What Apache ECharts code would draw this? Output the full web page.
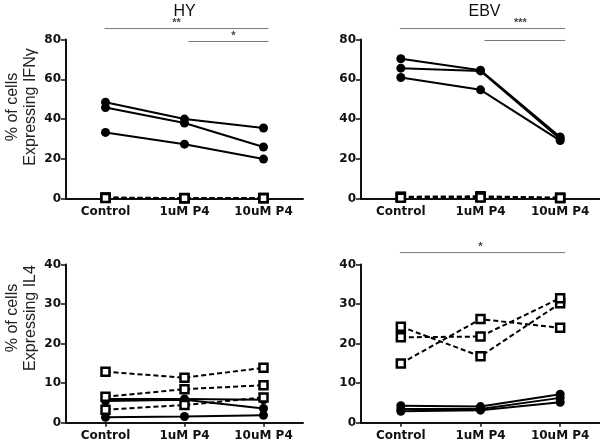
<!DOCTYPE html>
<html><head><meta charset="utf-8">
<script src="https://cdn.jsdelivr.net/npm/echarts@6/dist/echarts.min.js"></script>
<style>html,body{margin:0;padding:0;background:#fff}#c{width:600px;height:443px}</style>
</head><body><div id="c"></div>
<script>
const categories = ['Control', '1uM P4', '10uM P4'];
const ifnTicks = [0, 20, 40, 60, 80];
const il4Ticks = [0, 10, 20, 30, 40];

const hyIfnCircles = [[48.5, 40.0, 35.5], [45.8, 38.0, 26.0], [33.3, 27.4, 19.9]];
const hyIfnSquares = [[0.6, 0.3, 0.3], [0.5, 0.2, 0.4], [0.3, 0.2, 0.2]];
const ebvIfnCircles = [[70.3, 64.6, 31.0], [65.6, 64.2, 30.0], [60.9, 54.7, 29.2]];
const ebvIfnSquares = [[1.0, 1.2, 0.5], [0.8, 0.9, 0.4], [0.5, 0.6, 0.3]];
const hyIl4Squares = [[12.9, 11.4, 13.9], [6.6, 8.5, 9.5], [3.3, 4.5, 6.4]];
const hyIl4Circles = [[6.0, 6.0, 5.8], [5.5, 5.8, 3.6], [1.4, 1.6, 1.9]];
const ebvIl4Squares = [[24.3, 16.8, 30.2], [21.6, 21.8, 31.5], [15.0, 26.2, 24.0]];
const ebvIl4Circles = [[4.3, 4.1, 7.2], [3.5, 3.5, 6.3], [2.9, 3.2, 5.2]];

// significance bars: panel, from category, to category, level (value)
const sigBars = [
  {panel: 0, from: 0, to: 2, level: 85.5},
  {panel: 0, from: 1, to: 2, level: 79},
  {panel: 1, from: 0, to: 2, level: 85.5},
  {panel: 1, from: 1, to: 2, level: 79.5},
  {panel: 3, from: 0, to: 2, level: 43}
];
// significance labels: panel, position along categories, level (value), text
const sigLabels = [
  {panel: 0, at: 0.9, level: 88.5, label: '**'},
  {panel: 0, at: 1.62, level: 82, label: '*'},
  {panel: 1, at: 1.5, level: 88.5, label: '***'},
  {panel: 3, at: 1.0, level: 44.5, label: '*'}
];

const axisColor = '#111';
const tickFont = {fontFamily: 'DejaVu Sans', fontWeight: 'bold', fontSize: 12, color: '#111'};

const grids = [
  {left: 66, top: 39.5, width: 237, height: 159.2},
  {left: 361, top: 39.5, width: 239, height: 159.2},
  {left: 66, top: 264.5, width: 237, height: 158.3},
  {left: 361, top: 264.5, width: 239, height: 158.3}
];

const xAxes = grids.map((g, i) => ({
  type: 'category', gridIndex: i, data: categories, boundaryGap: true,
  axisLine: {lineStyle: {color: axisColor, width: 2}},
  axisTick: {show: true, alignWithLabel: true, length: 4, lineStyle: {color: axisColor, width: 1.5}},
  axisLabel: Object.assign({margin: 7}, tickFont),
  splitLine: {show: false}
}));
const yAxes = grids.map((g, i) => {
  const ticks = i < 2 ? ifnTicks : il4Ticks;
  return {
    type: 'value', gridIndex: i, min: ticks[0], max: ticks[ticks.length - 1],
    interval: ticks[1] - ticks[0],
    axisLine: {show: true, lineStyle: {color: axisColor, width: 2}},
    axisTick: {show: true, length: 5, lineStyle: {color: axisColor, width: 1.5}},
    axisLabel: Object.assign({margin: 5}, tickFont),
    splitLine: {show: false}
  };
});

function circleSeries(arr, gi) {
  return arr.map(d => ({
    type: 'line', xAxisIndex: gi, yAxisIndex: gi, data: d, symbol: 'circle', symbolSize: 9,
    lineStyle: {color: '#000', width: 2}, itemStyle: {color: '#000'}, z: 3, animation: false
  }));
}
function squareSeries(arr, gi) {
  return arr.map(d => ({
    type: 'line', xAxisIndex: gi, yAxisIndex: gi, data: d, symbol: 'rect', symbolSize: 8,
    lineStyle: {color: '#000', width: 2, type: [5, 3]},
    itemStyle: {color: '#fff', borderColor: '#000', borderWidth: 2.5, opacity: 1}, z: 4, animation: false
  }));
}

const series = [].concat(
  squareSeries(hyIfnSquares, 0), circleSeries(hyIfnCircles, 0),
  squareSeries(ebvIfnSquares, 1), circleSeries(ebvIfnCircles, 1),
  squareSeries(hyIl4Squares, 2), circleSeries(hyIl4Circles, 2),
  squareSeries(ebvIl4Squares, 3), circleSeries(ebvIl4Circles, 3)
);

const chart = echarts.init(document.getElementById('c'), null, {renderer: 'canvas'});
chart.setOption({
  animation: false,
  backgroundColor: '#fff',
  grid: grids,
  xAxis: xAxes,
  yAxis: yAxes,
  series: series
});

const titleFont = {fontFamily: 'Liberation Sans', fontSize: 16, fill: '#111'};
const yTitleFont = {fontFamily: 'Liberation Sans', fontSize: 16, fill: '#222'};
const graphics = [];
function px(panel, cat, val) {
  const i0 = Math.floor(cat), i1 = Math.min(i0 + 1, categories.length - 1);
  const a = chart.convertToPixel({gridIndex: panel}, [i0, val]);
  const b = chart.convertToPixel({gridIndex: panel}, [i1, val]);
  const f = cat - i0;
  return [a[0] + (b[0] - a[0]) * f, a[1]];
}
// panel titles
const hyC = px(0, 1, 80), ebvC = px(1, 1, 80);
graphics.push({type: 'text', x: hyC[0], y: 12, style: Object.assign({text: 'HY', align: 'center', verticalAlign: 'middle'}, titleFont)});
graphics.push({type: 'text', x: ebvC[0] + 4, y: 12, style: Object.assign({text: 'EBV', align: 'center', verticalAlign: 'middle'}, titleFont)});
// y axis titles
[[107, 'Expressing IFNγ'], [318, 'Expressing IL4']].forEach(([cy, t]) => {
  graphics.push({type: 'text', x: 13, y: cy, rotation: Math.PI / 2,
    style: Object.assign({text: '% of cells', align: 'center', verticalAlign: 'middle'}, yTitleFont)});
  graphics.push({type: 'text', x: 31, y: cy, rotation: Math.PI / 2,
    style: Object.assign({text: t, align: 'center', verticalAlign: 'middle'}, yTitleFont)});
});
// significance bars
sigBars.forEach(b => {
  const a = px(b.panel, b.from, b.level), c = px(b.panel, b.to, b.level);
  graphics.push({type: 'line', shape: {x1: a[0] + (b.from === 0 ? -1 : 4), y1: a[1], x2: c[0] + 5, y2: c[1]},
    style: {stroke: '#777', lineWidth: 1}});
});
sigLabels.forEach(s => {
  const p = px(s.panel, s.at, s.level);
  graphics.push({type: 'text', x: p[0], y: p[1], style: {text: s.label, align: 'center', verticalAlign: 'middle',
    fontFamily: 'Liberation Sans', fontWeight: 'bold', fontSize: 11, fill: '#444'}});
});
chart.setOption({graphic: graphics});
</script>
</body></html>
